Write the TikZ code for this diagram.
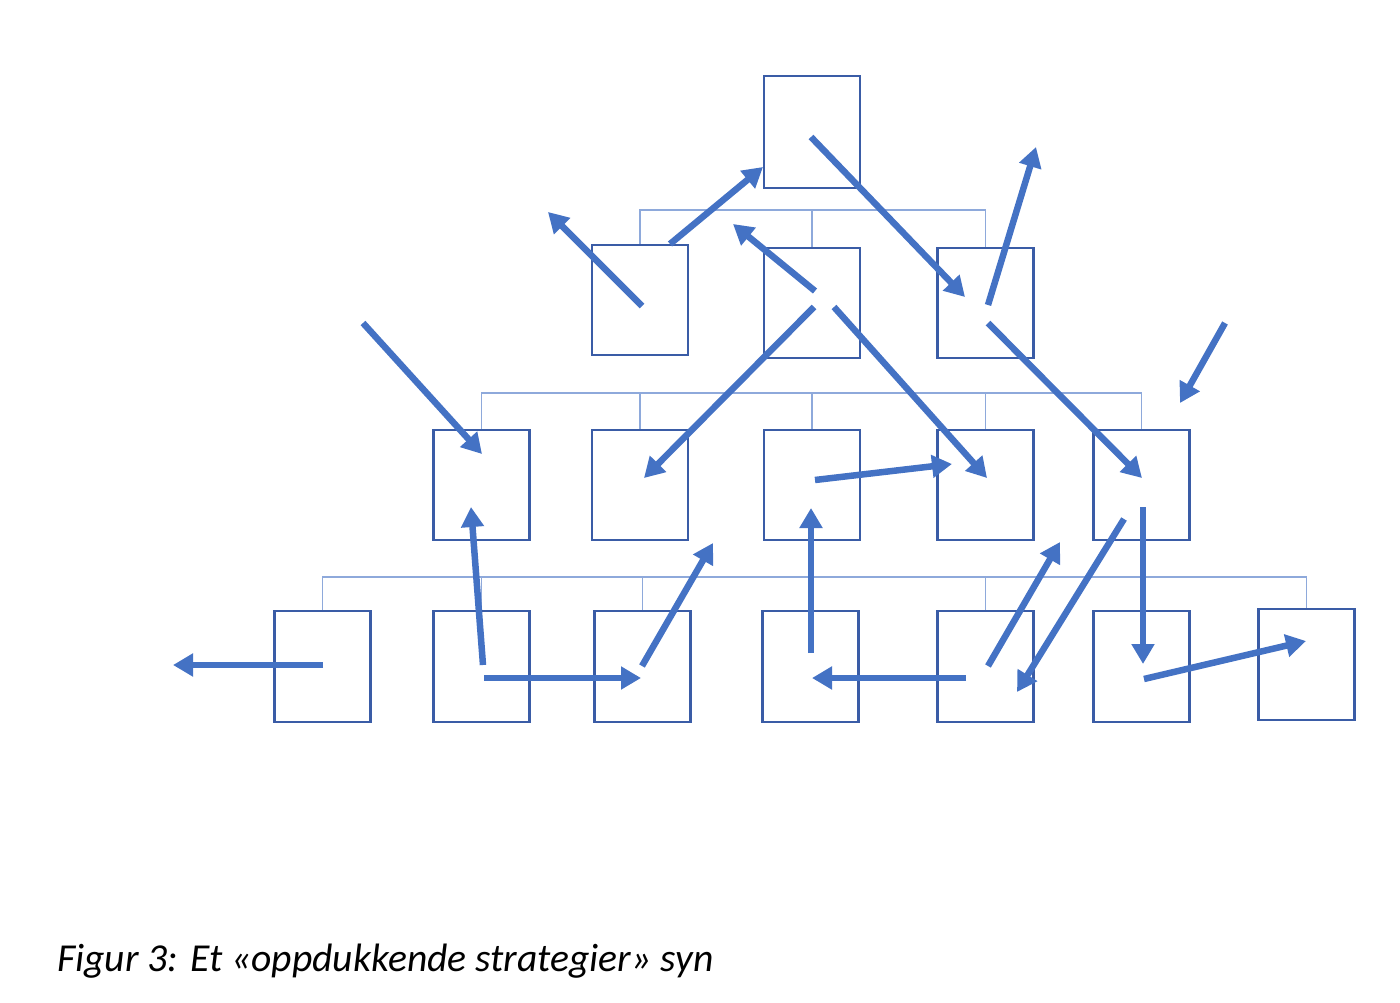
\documentclass[tikz,border=0pt]{standalone}
\usepackage{fontspec}
\newfontfamily\capfont{Carlito}
\usetikzlibrary{arrows.meta}
\definecolor{arrowblue}{HTML}{4472C4}
\definecolor{boxblue}{HTML}{3A5CA6}
\definecolor{busblue}{HTML}{8EA9DB}
\begin{document}
\begin{tikzpicture}[x=1pt,y=-1pt,
  box/.style={draw=boxblue,line width=2.2pt,minimum width=96pt,minimum height=110pt,inner sep=0pt,fill=none},
  bus/.style={draw=busblue,line width=1.8pt},
  flow/.style={draw=arrowblue,line width=6.5pt,-{Triangle[length=20pt,width=22pt]}}]
\useasboundingbox (0,0) rectangle (1400,1003);
% boxes
\node[box,minimum height=112pt] (T) at (812,132) {};
\node[box] (B21) at (640,300) {};
\node[box] (B22) at (812,303) {};
\node[box] (B23) at (985.5,303) {};
\node[box] (B31) at (481.5,485) {};
\node[box] (B32) at (640,485) {};
\node[box] (B33) at (812,485) {};
\node[box] (B34) at (985.5,485) {};
\node[box] (B35) at (1141.5,485) {};
\node[box,minimum height=111pt] (B41) at (322.5,666.5) {};
\node[box,minimum height=111pt] (B42) at (481.5,666.5) {};
\node[box,minimum height=111pt] (B43) at (642.5,666.5) {};
\node[box,minimum height=111pt] (B44) at (810.5,666.5) {};
\node[box,minimum height=111pt] (B45) at (985.5,666.5) {};
\node[box,minimum height=111pt] (B46) at (1141.5,666.5) {};
\node[box,minimum height=111pt] (B47) at (1306.5,664.5) {};
% buses
\coordinate (bus1) at (0,210);
\coordinate (bus2) at (0,393);
\coordinate (bus3) at (0,577);
\draw[bus] (B21.north) -- (B21.north |- bus1) -- (B23.north |- bus1) -- (B23.north);
\draw[bus] (B22.north) -- (B22.north |- bus1);
\draw[bus] (B31.north) -- (B31.north |- bus2) -- (B35.north |- bus2) -- (B35.north);
\foreach \b in {B32,B33,B34} \draw[bus] (\b.north) -- (\b.north |- bus2);
\draw[bus] (B41.north) -- (B41.north |- bus3) -- (B47.north |- bus3) -- (B47.north);
\foreach \b in {B42,B43,B44,B45,B46} \draw[bus] (\b.north) -- (\b.north |- bus3);
% arrow end points
\coordinate (a1s) at (670,244);  \coordinate (a1e) at (763,167);
\coordinate (a2s) at (811,137);  \coordinate (a2e) at (965,297);
\coordinate (a3s) at (642,306);  \coordinate (a3e) at (548,212);
\coordinate (a4s) at (988,305);  \coordinate (a4e) at (1036,147);
\coordinate (a5s) at (815,291);  \coordinate (a5e) at (733,224);
\coordinate (a6s) at (814,307);  \coordinate (a6e) at (644,478);
\coordinate (a7s) at (834,307);  \coordinate (a7e) at (987,478);
\coordinate (a8s) at (988,323);  \coordinate (a8e) at (1142,478);
\coordinate (a9s) at (363,323);  \coordinate (a9e) at (482,454);
\coordinate (a10s) at (1225,323); \coordinate (a10e) at (1180,403);
\coordinate (a11s) at (815,480); \coordinate (a11e) at (952,464);
\coordinate (a12s) at (1143,507); \coordinate (a12e) at (1143,664);
\coordinate (a13s) at (483,665); \coordinate (a13e) at (471,507);
\coordinate (a14s) at (484,678); \coordinate (a14e) at (641,678);
\coordinate (a15s) at (642,666); \coordinate (a15e) at (713,543);
\coordinate (a16s) at (811,653); \coordinate (a16e) at (811,508);
\coordinate (a17s) at (966,678); \coordinate (a17e) at (812,678);
\coordinate (a18s) at (988,666); \coordinate (a18e) at (1060,542);
\coordinate (a19s) at (1124,519); \coordinate (a19e) at (1017,692);
\coordinate (a20s) at (1144,679); \coordinate (a20e) at (1306,641);
\coordinate (a21s) at (323,665); \coordinate (a21e) at (173,665);
\foreach \i in {1,...,21} \draw[flow] (a\i s) -- (a\i e);
% caption
\node[anchor=base west,inner sep=0pt] (cap) at (57,971)
  {\capfont\itshape\fontsize{39.6}{48}\selectfont Figur 3: Et «oppdukkende strategier» syn};
\end{tikzpicture}
\end{document}
